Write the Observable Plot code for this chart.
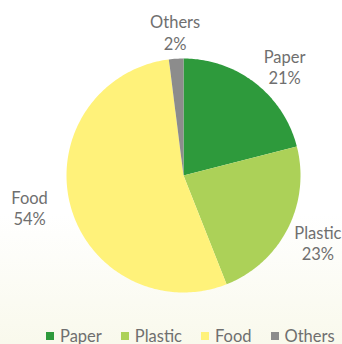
<!DOCTYPE html>
<html>
<head>
<meta charset="utf-8">
<script src="https://cdn.jsdelivr.net/npm/d3@7"></script>
<script src="https://cdn.jsdelivr.net/npm/@observablehq/plot@0.6"></script>
<style>
  html, body { margin: 0; padding: 0; }
  body {
    width: 342px; height: 344px; overflow: hidden;
    background: linear-gradient(to bottom, #ffffff 0%, #ffffff 62%, #f9f9ec 100%);
    font-family: Lato, "Open Sans", sans-serif;
  }
  .lg-swatch { margin-right: 19px !important; white-space: nowrap; flex-shrink: 0; }
  .lg-swatch > svg { margin-right: 6px !important; }
</style>
</head>
<body>
<div id="chart"></div>
<script>
const categories = ["Paper", "Plastic", "Food", "Others"];
const shares = [21, 23, 54, 2];
const colors = ["#2e9a3c", "#acd158", "#fff27a", "#8c8c8c"];

const data = categories.map((name, i) => ({name, share: shares[i]}));
const arcs = d3.pie().sort(null).value(d => d.share)(data);

// slice outlines (center + arc), angle clockwise from 12 o'clock
const slicePts = [];
for (const a of arcs) {
  slicePts.push({name: a.data.name, x: 0, y: 0});
  const n = Math.max(2, Math.ceil((a.endAngle - a.startAngle) / (Math.PI / 180)));
  for (let k = 0; k <= n; k++) {
    const t = a.startAngle + (a.endAngle - a.startAngle) * k / n;
    slicePts.push({name: a.data.name, x: Math.sin(t), y: Math.cos(t)});
  }
}

const R = 117; // pixel radius
const nudge = {Paper: [10, 9], Plastic: [2, 0], Food: [-10, -5], Others: [1, 5]};
const labels = arcs.map(a => {
  const m = (a.startAngle + a.endAngle) / 2;
  const [nx, ny] = nudge[a.data.name];
  return {
    name: a.data.name, share: a.data.share,
    x: Math.sin(m) * 1.27 + nx / R,
    y: Math.cos(m) * 1.27 - ny / R
  };
});

const plot = Plot.plot({
  width: 342, height: 326,
  marginLeft: 66, marginRight: 42, marginTop: 58, marginBottom: 34,
  x: {domain: [-1, 1], axis: null},
  y: {domain: [-1, 1], axis: null},
  color: {domain: categories, range: colors},
  style: {background: "transparent", overflow: "visible"},
  marks: [
    Plot.line(slicePts, {x: "x", y: "y", z: "name", fill: "name", stroke: "none", curve: "linear-closed"}),
    Plot.text(labels, {
      x: "x", y: "y",
      text: d => `${d.name}\n${d.share}%`,
      fill: "#6f6f6f", fontSize: 16.5, lineHeight: 1.28,
      fontFamily: "Lato, sans-serif", clip: false
    })
  ]
});

const legend = plot.legend("color", {className: "lg", swatchSize: 8});
Object.assign(legend.style, {
  margin: "0 0 0 46px", fontFamily: "Lato, sans-serif", fontSize: "16.5px",
  color: "#6f6f6f", minHeight: "20px", height: "20px", display: "flex", alignItems: "center",
  flexWrap: "nowrap", whiteSpace: "nowrap", width: "300px", overflow: "visible"
});
document.getElementById("chart").append(plot, legend);
</script>
</body>
</html>
